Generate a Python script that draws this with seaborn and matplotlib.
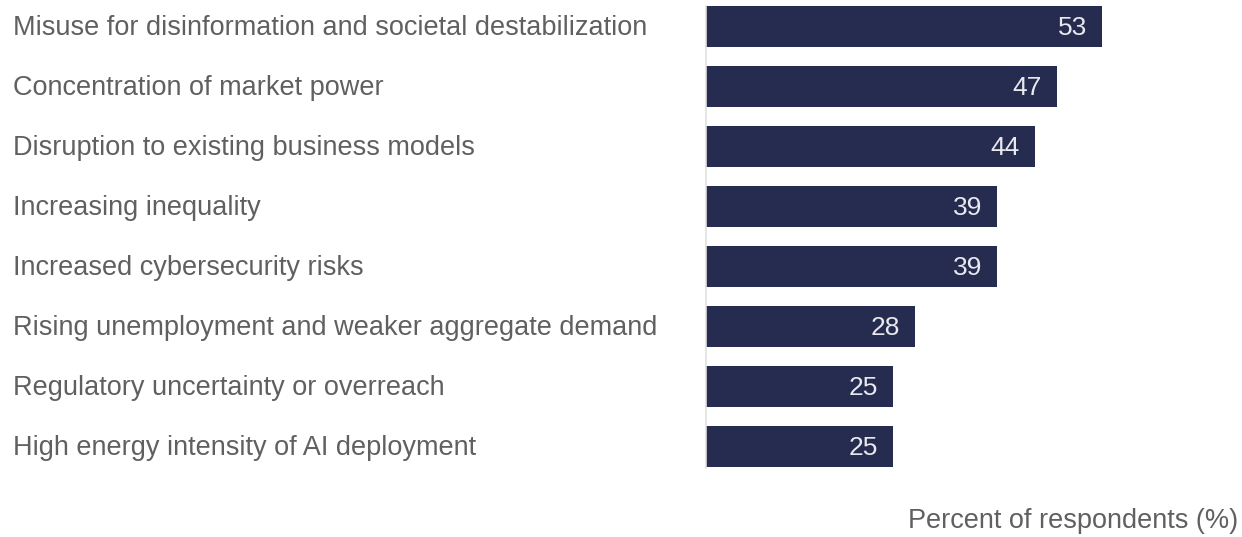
import matplotlib
matplotlib.use("Agg")
import matplotlib.pyplot as plt
import matplotlib.transforms as mtransforms
import seaborn as sns
import pandas as pd

# risks and share of respondents (%)
risks = [
    "Misuse for disinformation and societal destabilization",
    "Concentration of market power",
    "Disruption to existing business models",
    "Increasing inequality",
    "Increased cybersecurity risks",
    "Rising unemployment and weaker aggregate demand",
    "Regulatory uncertainty or overreach",
    "High energy intensity of AI deployment",
]
percent = [53, 47, 44, 39, 39, 28, 25, 25]

df = pd.DataFrame({"risk": risks, "percent": percent})

sns.set_theme(style="white")
plt.rcParams["font.family"] = ["Liberation Sans", "DejaVu Sans"]

BAR = "#252c50"
TXT = "#606060"

fig = plt.figure(figsize=(12.42, 5.37), dpi=100)
W, H = 1242, 537
ax = fig.add_axes([706 / W, 1 - 467.5 / H, (1240 - 706) / W, (467.5 - 5.5) / H])

sns.barplot(data=df, x="percent", y="risk", color=BAR, width=0.667,
            saturation=1, ax=ax, edgecolor="none")

ax.set_xlim(0, 534 / 7.47)
ax.set_ylim(7.35, -0.35)
ax.set_xlabel("")
ax.set_ylabel("")
ax.set_xticks([])
ax.set_yticks([])
for s in ["top", "right", "bottom"]:
    ax.spines[s].set_visible(False)
ax.spines["left"].set_color("#e0e0e0")
ax.spines["left"].set_linewidth(1.2)

trans = mtransforms.blended_transform_factory(fig.transFigure, ax.transData)
for i, (r, v) in enumerate(zip(risks, percent)):
    ax.text(13 / W, i + 0.03, r, transform=trans, ha="left", va="center",
            fontsize=19.5, color=TXT)
    ax.text(v - 2.0, i + 0.03, str(v), ha="right", va="center",
            fontsize=19, color="#e8e8ee")

fig.text(1238 / W, 1 - 521 / H, "Percent of respondents (%)", ha="right",
         va="center", fontsize=19.5, color=TXT)

fig.savefig("out.png", dpi=100)
